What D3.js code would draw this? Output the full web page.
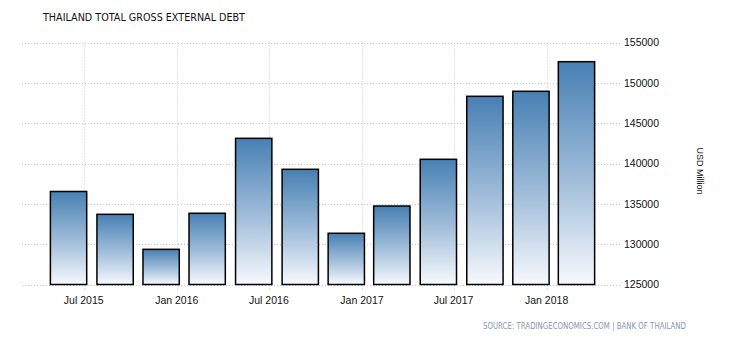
<!DOCTYPE html>
<html><head><meta charset="utf-8">
<script src="https://cdn.jsdelivr.net/npm/d3@7"></script>
<style>body{margin:0;background:#fff}svg{display:block}</style>
</head><body>
<script>
const title = "THAILAND TOTAL GROSS EXTERNAL DEBT";
const unitLabel = "USD Million";
const sourceText = "SOURCE: TRADINGECONOMICS.COM | BANK OF THAILAND";
const periods = ["2015-06-01","2015-09-01","2015-12-01","2016-03-01","2016-06-01","2016-09-01",
                 "2016-12-01","2017-03-01","2017-06-01","2017-09-01","2017-12-01","2018-03-01"];
const values = [136530,133700,129360,133830,143120,139280,131350,134730,140520,148330,148950,152620];
const yTicks = [125000,130000,135000,140000,145000,150000,155000];
const xTicks = ["2015-07-01","2016-01-01","2016-07-01","2017-01-01","2017-07-01","2018-01-01"];
const xDomain = ["2015-03-01","2018-05-28"];

const W = 730, H = 340;
const m = {left:22, right:109, top:42.5, bottom:55.5};
const parse = d3.utcParse("%Y-%m-%d");
const svg = d3.select("body").append("svg").attr("width",W).attr("height",H);

const x = d3.scaleUtc().domain(xDomain.map(parse)).range([m.left, W-m.right]);
const y = d3.scaleLinear().domain([yTicks[0], yTicks[yTicks.length-1]]).range([H-m.bottom, m.top]);

const defs = svg.append("defs");
const grad = defs.append("linearGradient").attr("id","g").attr("x1",0).attr("y1",0).attr("x2",0).attr("y2",1);
grad.append("stop").attr("offset","0%").attr("stop-color","#4780b3");
grad.append("stop").attr("offset","55%").attr("stop-color","#a3bfdb");
grad.append("stop").attr("offset","100%").attr("stop-color","#f7f9fd");

// horizontal grid
svg.append("g").selectAll("line").data(yTicks).join("line")
  .attr("x1",m.left).attr("x2",W-m.right)
  .attr("y1",d=>Math.round(y(d))+0.5).attr("y2",d=>Math.round(y(d))+0.5)
  .attr("stroke","#c9c9c9").attr("stroke-dasharray","1,2");
// vertical grid
svg.append("g").selectAll("line").data(xTicks.map(parse)).join("line")
  .attr("x1",d=>Math.round(x(d))+0.5).attr("x2",d=>Math.round(x(d))+0.5)
  .attr("y1",m.top).attr("y2",H-m.bottom+6)
  .attr("stroke","#c9c9c9").attr("stroke-dasharray","1,2");

// bars
const dates = periods.map(parse);
const step = x(dates[1]) - x(dates[0]);
const bw = step*0.78;
svg.append("g").selectAll("rect").data(values).join("rect")
  .attr("x",(d,i)=>x(dates[i])-bw/2)
  .attr("y",d=>y(d))
  .attr("width",bw)
  .attr("height",d=>y(yTicks[0])-y(d))
  .attr("fill","url(#g)").attr("stroke","#000").attr("stroke-width",1.5);

// x axis labels
const fmt = d3.utcFormat("%b %Y");
svg.append("g").selectAll("text").data(xTicks.map(parse)).join("text")
  .attr("x",d=>x(d)).attr("y",304)
  .attr("text-anchor","middle")
  .attr("font-family","Liberation Sans, Arial, sans-serif").attr("font-size",10.5)
  .attr("fill","#111").text(d=>fmt(d));

// y axis labels right
svg.append("g").selectAll("text").data(yTicks).join("text")
  .attr("x",W-m.right+3).attr("y",d=>y(d)+3.8)
  .attr("font-family","Liberation Sans, Arial, sans-serif").attr("font-size",10.5)
  .attr("fill","#111").text(d=>d);

// unit label
svg.append("text").attr("transform","translate(697,171) rotate(90)")
  .attr("text-anchor","middle")
  .attr("font-family","Liberation Sans, Arial, sans-serif").attr("font-size",9)
  .attr("fill","#111").text(unitLabel);

// title
svg.append("text").attr("x",43).attr("y",21)
  .attr("font-family","DejaVu Sans, sans-serif").attr("font-size",11)
  .attr("textLength",202).attr("lengthAdjust","spacingAndGlyphs")
  .attr("fill","#111").text(title);

// source
svg.append("text").attr("x",483).attr("y",328.5)
  .attr("font-family","DejaVu Sans, sans-serif").attr("font-size",8)
  .attr("textLength",203).attr("lengthAdjust","spacingAndGlyphs")
  .attr("fill","#8596b0").text(sourceText);
</script>
</body></html>
